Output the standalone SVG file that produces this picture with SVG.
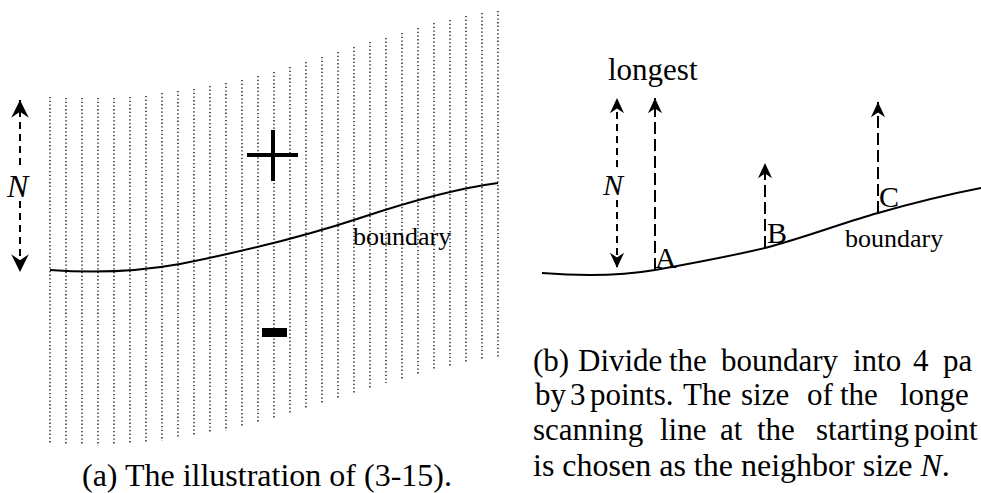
<svg xmlns="http://www.w3.org/2000/svg" width="981" height="493" viewBox="0 0 981 493">
<style>
text{font-family:"Liberation Serif","Times New Roman",serif;fill:#000}
.dot{stroke:#000;stroke-width:1.3;stroke-dasharray:1.3 2.4;fill:none}
.bnd{stroke:#000;stroke-width:2;fill:none}
.dash{stroke:#000;stroke-width:2;stroke-dasharray:7 5;fill:none}
.dashl{stroke:#000;stroke-width:2;stroke-dasharray:12 5;fill:none}
.it{font-style:italic}
</style>
<defs>
<marker id="ahA" markerUnits="userSpaceOnUse" markerWidth="20" markerHeight="20" viewBox="-16 -8 17 16" refX="0" refY="0" orient="auto">
<path d="M0,0 L-15,-7.5 L-10,0 L-15,7.5 Z" fill="#000"/>
</marker>
<marker id="ahB" markerUnits="userSpaceOnUse" markerWidth="20" markerHeight="20" viewBox="-16 -8 17 16" refX="0" refY="0" orient="auto">
<path d="M0,0 L-13,-6 L-9,0 L-13,6 Z" fill="#000"/>
</marker>
</defs>

<g id="scanlines">
<line class="dot" x1="50" y1="97" x2="50" y2="443"/>
<line class="dot" x1="66" y1="98" x2="66" y2="444"/>
<line class="dot" x1="82" y1="98" x2="82" y2="445"/>
<line class="dot" x1="98" y1="98" x2="98" y2="446"/>
<line class="dot" x1="114" y1="98" x2="114" y2="445"/>
<line class="dot" x1="130" y1="97" x2="130" y2="444"/>
<line class="dot" x1="146" y1="96" x2="146" y2="442"/>
<line class="dot" x1="162" y1="93" x2="162" y2="441"/>
<line class="dot" x1="178" y1="91" x2="178" y2="438"/>
<line class="dot" x1="194" y1="89" x2="194" y2="436"/>
<line class="dot" x1="210" y1="86" x2="210" y2="433"/>
<line class="dot" x1="226" y1="83" x2="226" y2="431"/>
<line class="dot" x1="242" y1="80" x2="242" y2="427"/>
<line class="dot" x1="258" y1="76" x2="258" y2="423"/>
<line class="dot" x1="274" y1="72" x2="274" y2="419"/>
<line class="dot" x1="290" y1="67" x2="290" y2="414"/>
<line class="dot" x1="306" y1="62" x2="306" y2="409"/>
<line class="dot" x1="322" y1="57" x2="322" y2="404"/>
<line class="dot" x1="338" y1="52" x2="338" y2="399"/>
<line class="dot" x1="354" y1="47" x2="354" y2="394"/>
<line class="dot" x1="370" y1="42" x2="370" y2="388"/>
<line class="dot" x1="386" y1="38" x2="386" y2="383"/>
<line class="dot" x1="402" y1="33" x2="402" y2="379"/>
<line class="dot" x1="418" y1="28" x2="418" y2="375"/>
<line class="dot" x1="434" y1="23" x2="434" y2="370"/>
<line class="dot" x1="450" y1="20" x2="450" y2="367"/>
<line class="dot" x1="466" y1="16" x2="466" y2="363"/>
<line class="dot" x1="482" y1="13" x2="482" y2="360"/>
<line class="dot" x1="498" y1="11" x2="498" y2="357"/>
</g>

<g id="boundary-a">
<path class="bnd" d="M50,270 C90,273 130,273 180,264 C240,252 300,238 360,218 C420,198 460,188 498,183"/>
<text x="353" y="245" font-size="26">boundary</text>
</g>

<g id="plus">
<line x1="247" y1="155" x2="298" y2="155" stroke="#000" stroke-width="4"/>
<line x1="273" y1="130" x2="273" y2="181" stroke="#000" stroke-width="4"/>
</g>
<rect id="minus" x="262" y="328" width="25" height="9" fill="#000"/>

<g id="N-a">
<text class="it" x="7" y="197" font-size="32">N</text>
</g>

<g id="boundary-b">
<path class="bnd" d="M542,273 C580,276 620,276 655,270 C700,262 735,255 765,248 C810,236 845,222 878,213 C920,201 950,194 981,188"/>
<text x="845" y="247" font-size="26">boundary</text>
</g>
<g id="longest"><text x="608" y="80" font-size="31">longest</text></g>
<g id="N-b"><text class="it" x="603" y="195" font-size="30">N</text></g>
<g id="A"><text x="655" y="268" font-size="30">A</text></g>
<g id="B"><text x="767" y="243" font-size="30">B</text></g>
<g id="C"><text x="879" y="207" font-size="30">C</text></g>

<g id="connectors">
<line class="dash" x1="20" y1="165" x2="20" y2="100" marker-end="url(#ahA)"/>
<line class="dash" x1="20" y1="201" x2="20" y2="272" marker-end="url(#ahA)"/>
<line class="dash" x1="617" y1="167" x2="617" y2="98" marker-end="url(#ahB)"/>
<line class="dash" x1="617" y1="200" x2="617" y2="268" marker-end="url(#ahB)"/>
<line class="dashl" x1="655" y1="270" x2="655" y2="98" marker-end="url(#ahB)"/>
<line class="dashl" x1="765" y1="248" x2="765" y2="163" marker-end="url(#ahB)"/>
<line class="dashl" x1="878" y1="213" x2="878" y2="102" marker-end="url(#ahB)"/>
</g>

<g id="caption-a">
<text x="82" y="486" font-size="32">(a) The illustration of (3-15).</text>
</g>
<g id="caption-b" font-size="31">
<text y="371"><tspan x="533">(b)</tspan><tspan x="578">Divide</tspan><tspan x="669">the</tspan><tspan x="721">boundary</tspan><tspan x="853">into</tspan><tspan x="913">4</tspan><tspan x="943">pa</tspan></text>
<text y="405"><tspan x="535">by</tspan><tspan x="570">3</tspan><tspan x="590">points.</tspan><tspan x="683">The</tspan><tspan x="741">size</tspan><tspan x="807">of</tspan><tspan x="840">the</tspan><tspan x="900">longe</tspan></text>
<text y="440"><tspan x="533">scanning</tspan><tspan x="660">line</tspan><tspan x="720">at</tspan><tspan x="757">the</tspan><tspan x="816">starting</tspan><tspan x="914">point</tspan></text>
<text x="533" y="476" font-size="32">is chosen as the neighbor size <tspan class="it">N</tspan>.</text>
</g>
</svg>
